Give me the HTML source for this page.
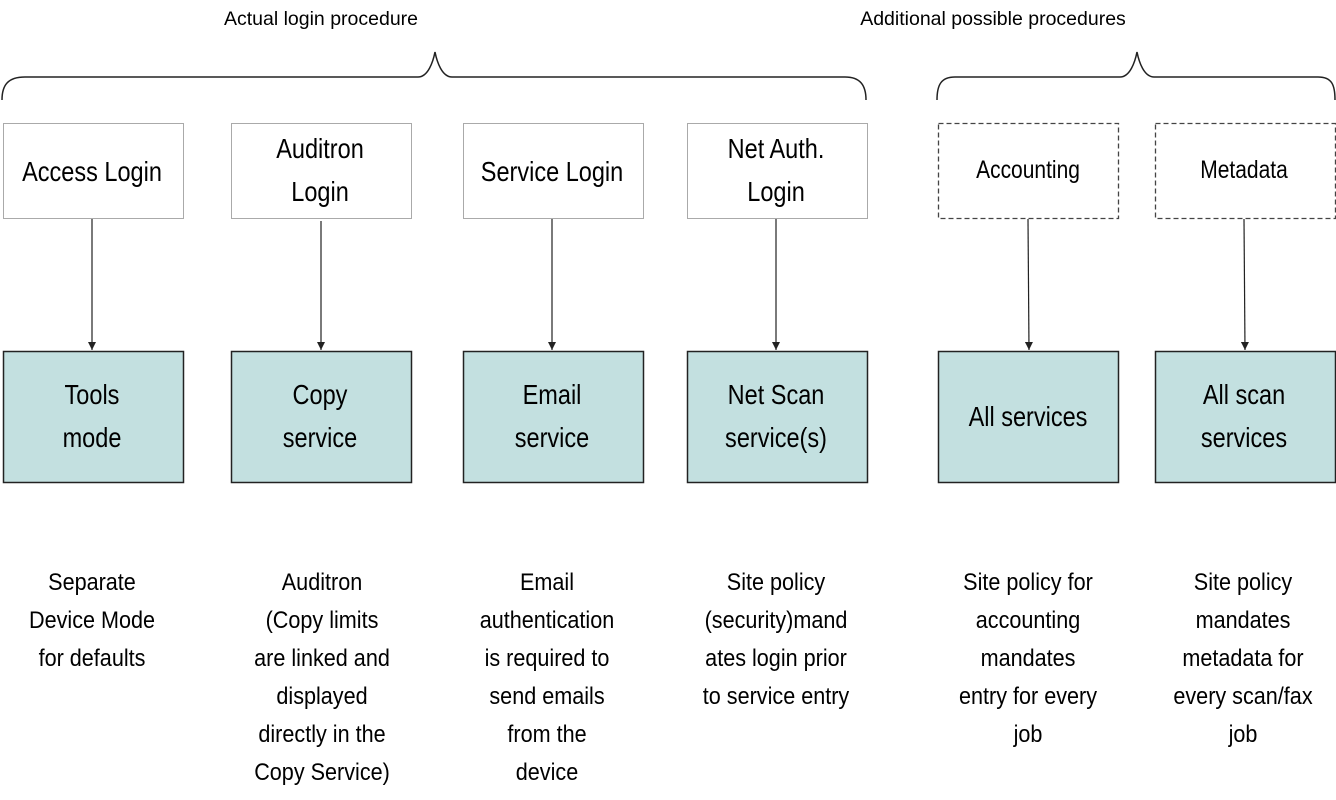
<!DOCTYPE html>
<html><head><meta charset="utf-8"><style>
html,body{margin:0;padding:0;background:#fff;}
svg{display:block;}
text{font-family:"Liberation Sans",sans-serif;fill:#000;text-anchor:middle;}
</style></head><body>
<svg width="1336" height="800" viewBox="0 0 1336 800" xmlns="http://www.w3.org/2000/svg">
<defs><marker id="a" markerWidth="8" markerHeight="8" refX="8" refY="4" orient="auto" markerUnits="userSpaceOnUse"><path d="M0,0 L8,4 L0,8 z" fill="#222"/></marker></defs>
<text x="321" y="25" style="font-size:19.5px">Actual login procedure</text>
<text x="993" y="25" style="font-size:19.5px">Additional possible procedures</text>
<g fill="none" stroke="#222" stroke-width="1.5">
<path d="M2,100 C2,85 8,77 25,77 L418,77 C428,77 433,62 435,52 C437,62 442,77 452,77 L845,77 C860,77 866,85 866,100"/>
<path d="M937,100 C937,85 941,77 955,77 L1120,77 C1130,77 1135,62 1137,52 C1139,62 1144,77 1154,77 L1318,77 C1332,77 1335,85 1335,100"/>
</g>
<g fill="#fff" stroke="#aaa" stroke-width="1">
<rect x="3.5" y="123.5" width="180" height="95"/>
<rect x="231.5" y="123.5" width="180" height="95"/>
<rect x="463.5" y="123.5" width="180" height="95"/>
<rect x="687.5" y="123.5" width="180" height="95"/>
</g>
<g fill="#fff" stroke="#444" stroke-width="1.3" stroke-dasharray="5,3">
<rect x="938.5" y="123.5" width="180" height="95"/>
<rect x="1155.5" y="123.5" width="180" height="95"/>
</g>
<g stroke="#222" stroke-width="1.2" marker-end="url(#a)">
<line x1="92" y1="219" x2="92" y2="350"/>
<line x1="321" y1="221" x2="321" y2="350"/>
<line x1="552" y1="219" x2="552" y2="350"/>
<line x1="776" y1="219" x2="776" y2="350"/>
<line x1="1028" y1="219" x2="1029" y2="350"/>
<line x1="1244" y1="219" x2="1245" y2="350"/>
</g>
<g fill="#c3e0e0" stroke="#222" stroke-width="1.5">
<rect x="3.5" y="351.5" width="180" height="131"/>
<rect x="231.5" y="351.5" width="180" height="131"/>
<rect x="463.5" y="351.5" width="180" height="131"/>
<rect x="687.5" y="351.5" width="180" height="131"/>
<rect x="938.5" y="351.5" width="180" height="131"/>
<rect x="1155.5" y="351.5" width="180" height="131"/>
</g>
<g style="font-size:28px">
<g transform="translate(92,0) scale(0.84,1)"><text y="181">Access Login</text><text y="404">Tools</text><text y="447">mode</text></g>
<g transform="translate(320,0) scale(0.84,1)"><text y="158">Auditron</text><text y="201">Login</text><text y="404">Copy</text><text y="447">service</text></g>
<g transform="translate(552,0) scale(0.84,1)"><text y="181">Service Login</text><text y="404">Email</text><text y="447">service</text></g>
<g transform="translate(776,0) scale(0.84,1)"><text y="158">Net Auth.</text><text y="201">Login</text><text y="404">Net Scan</text><text y="447">service(s)</text></g>
<g transform="translate(1028,0) scale(0.84,1)"><text y="426">All services</text><text y="178" style="font-size:25px">Accounting</text></g>
<g transform="translate(1244,0) scale(0.84,1)"><text y="404">All scan</text><text y="447">services</text><text y="178" style="font-size:25px">Metadata</text></g>
</g>
<g style="font-size:24px">
<g transform="translate(92,0) scale(0.9,1)"><text y="590">Separate</text><text y="628">Device Mode</text><text y="666">for defaults</text></g>
<g transform="translate(322,0) scale(0.9,1)"><text y="590">Auditron</text><text y="628">(Copy limits</text><text y="666">are linked and</text><text y="704">displayed</text><text y="742">directly in the</text><text y="780">Copy Service)</text></g>
<g transform="translate(547,0) scale(0.9,1)"><text y="590">Email</text><text y="628">authentication</text><text y="666">is required to</text><text y="704">send emails</text><text y="742">from the</text><text y="780">device</text></g>
<g transform="translate(776,0) scale(0.9,1)"><text y="590">Site policy</text><text y="628">(security)mand</text><text y="666">ates login prior</text><text y="704">to service entry</text></g>
<g transform="translate(1028,0) scale(0.9,1)"><text y="590">Site policy for</text><text y="628">accounting</text><text y="666">mandates</text><text y="704">entry for every</text><text y="742">job</text></g>
<g transform="translate(1243,0) scale(0.9,1)"><text y="590">Site policy</text><text y="628">mandates</text><text y="666">metadata for</text><text y="704">every scan/fax</text><text y="742">job</text></g>
</g>
</svg>
</body></html>
